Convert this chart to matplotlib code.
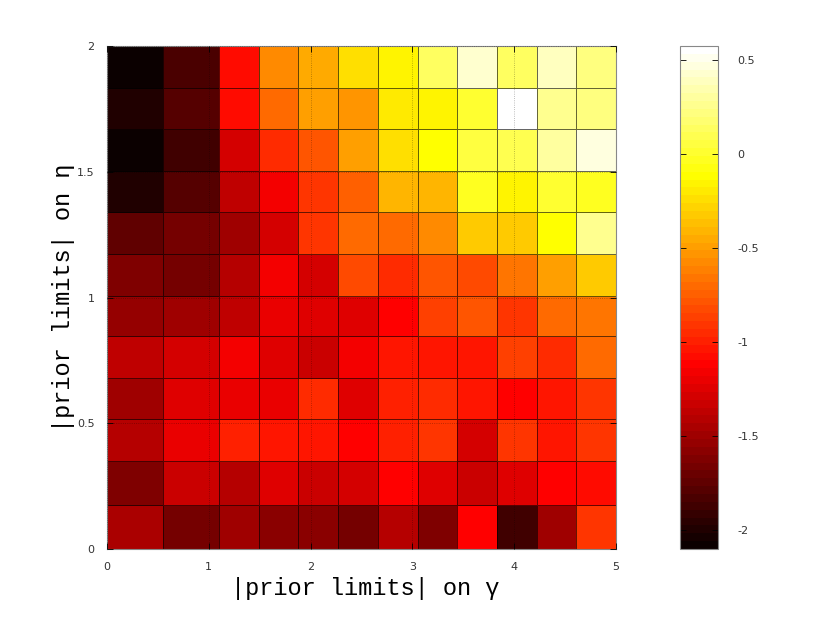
import numpy as np
import matplotlib
matplotlib.use('Agg')
import matplotlib.pyplot as plt
from matplotlib.colors import Normalize

# cell edges of the parameter grid
gamma_edges = [0, 0.55, 1.1, 1.49, 1.88, 2.27, 2.66, 3.05, 3.44, 3.83, 4.22, 4.61, 5.0]
eta_edges = [0, 0.175, 0.35, 0.515, 0.68, 0.845, 1.005, 1.175, 1.34, 1.505, 1.67, 1.835, 2.0]

# values, rows listed from top (eta=2) to bottom (eta=0)
row_12 = [-2.10, -1.82, -1.08, -0.56, -0.45, -0.23, -0.145, 0.15, 0.42, 0.15, 0.40, 0.24]
row_11 = [-2.00, -1.78, -1.08, -0.72, -0.48, -0.55, -0.20, -0.17, 0.02, 0.57, 0.28, 0.24]
row_10 = [-2.10, -1.88, -1.30, -0.96, -0.79, -0.51, -0.23, -0.13, 0.065, 0.10, 0.32, 0.45]
row_09 = [-2.00, -1.78, -1.39, -1.18, -0.90, -0.74, -0.42, -0.39, -0.02, -0.145, 0.02, -0.02]
row_08 = [-1.73, -1.67, -1.51, -1.30, -0.92, -0.68, -0.72, -0.56, -0.33, -0.31, -0.10, 0.28]
row_07 = [-1.61, -1.68, -1.43, -1.18, -1.30, -0.81, -0.96, -0.79, -0.81, -0.66, -0.48, -0.31]
row_06 = [-1.55, -1.49, -1.37, -1.21, -1.25, -1.24, -1.12, -0.85, -0.79, -0.90, -0.68, -0.64]
row_05 = [-1.37, -1.27, -1.18, -1.26, -1.34, -1.18, -1.04, -1.05, -1.05, -0.85, -0.96, -0.72]
row_04 = [-1.49, -1.24, -1.22, -1.22, -0.96, -1.25, -1.00, -0.96, -1.05, -1.12, -1.04, -0.90]
row_03 = [-1.40, -1.20, -1.00, -1.02, -1.04, -1.10, -1.00, -0.90, -1.30, -0.93, -1.02, -0.93]
row_02 = [-1.64, -1.34, -1.43, -1.25, -1.34, -1.30, -1.12, -1.24, -1.34, -1.24, -1.12, -1.06]
row_01 = [-1.45, -1.67, -1.49, -1.56, -1.58, -1.67, -1.41, -1.61, -1.12, -1.88, -1.49, -0.93]

Z = np.array([row_01, row_02, row_03, row_04, row_05, row_06,
              row_07, row_08, row_09, row_10, row_11, row_12])

vmin, vmax = -2.101, 0.575
cmap = plt.get_cmap('hot', 64)
norm = Normalize(vmin=vmin, vmax=vmax)

fig = plt.figure(figsize=(8.22, 6.17), dpi=100)
ax = fig.add_axes([0.1302, 0.1102, 0.6192, 0.8152])
cax = fig.add_axes([0.8273, 0.1102, 0.0462, 0.8152])

ax.pcolormesh(gamma_edges, eta_edges, Z, cmap=cmap, norm=norm,
              edgecolors=(0, 0, 0, 0.6), linewidth=0.6)
ax.set_xlim(0, 5)
ax.set_ylim(0, 2)
ax.set_xticks([0, 1, 2, 3, 4, 5])
ax.set_yticks([0, 0.5, 1, 1.5, 2])
ax.set_xticklabels(['0', '1', '2', '3', '4', '5'])
ax.set_yticklabels(['0', '0.5', '1', '1.5', '2'])
ax.grid(True, linestyle=':', color='black', alpha=0.35, linewidth=0.6)
ax.set_axisbelow(False)
ax.tick_params(direction='in', top=True, right=True, length=4, width=0.6,
               labelsize=8, labelcolor='#333333', pad=9)
for s in ax.spines.values():
    s.set_color('#888888')
    s.set_linewidth(0.8)

ax.set_xlabel('|prior limits| on \u03b3', family='Liberation Mono', fontsize=17)
ax.set_ylabel('|prior limits| on \u03b7', family='Liberation Mono', fontsize=17)
ax.xaxis.set_label_coords(0.507, -0.056)
ax.yaxis.set_label_coords(-0.063, 0.5)

sm = plt.cm.ScalarMappable(cmap=cmap, norm=norm)
cb = fig.colorbar(sm, cax=cax, ticks=[0.5, 0, -0.5, -1, -1.5, -2])
cb.ax.set_yticklabels(['0.5', '0', '-0.5', '-1', '-1.5', '-2'])
cb.ax.tick_params(direction='in', left=True, right=True, length=4, width=0.6,
                  labelsize=8, labelcolor='#333333', pad=14)
cb.outline.set_edgecolor('#888888')
cb.outline.set_linewidth(0.8)

fig.savefig('out.png', dpi=100)
